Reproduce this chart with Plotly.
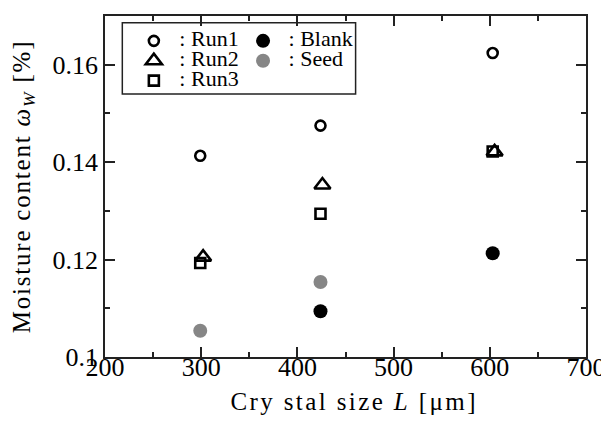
import plotly.graph_objects as go

# Data
run1_x = [299, 424, 603]
run1_y = [0.1413, 0.1475, 0.1624]
run2_x = [302, 426, 605]
run2_y = [0.1205, 0.1353, 0.1421]
run3_x = [299, 424, 603]
run3_y = [0.1193, 0.1294, 0.1422]
blank_x = [424, 603]
blank_y = [0.1094, 0.1213]
seed_x = [299, 424]
seed_y = [0.1054, 0.1154]

x_ticks = [200, 300, 400, 500, 600, 700]
y_ticks = [0.1, 0.12, 0.14, 0.16]
y_tick_text = ["0.1", "0.12", "0.14", "0.16"]

FONT = "Liberation Serif, Times New Roman, serif"
LEG = '<span style="font-size:22px"> : {}</span>'

fig = go.Figure()
fig.add_trace(go.Scatter(x=run1_x, y=run1_y, mode="markers", name=LEG.format("Run1"),
                         marker=dict(symbol="circle-open", size=10, color="black",
                                     line=dict(width=2.6, color="black")),
                         legend="legend"))
fig.add_trace(go.Scatter(x=run2_x, y=run2_y, mode="markers", name=LEG.format("Run2"),
                         marker=dict(symbol="triangle-up-open", size=14, color="black",
                                     line=dict(width=2.6, color="black")),
                         legend="legend"))
fig.add_trace(go.Scatter(x=run3_x, y=run3_y, mode="markers", name=LEG.format("Run3"),
                         marker=dict(symbol="square-open", size=10, color="black",
                                     line=dict(width=2.6, color="black")),
                         legend="legend"))
fig.add_trace(go.Scatter(x=blank_x, y=blank_y, mode="markers", name=LEG.format("Blank"),
                         marker=dict(symbol="circle", size=14, color="black"),
                         legend="legend2"))
fig.add_trace(go.Scatter(x=seed_x, y=seed_y, mode="markers", name=LEG.format("Seed"),
                         marker=dict(symbol="circle", size=14, color="#868686"),
                         legend="legend2"))

axis_common = dict(
    showline=True, linecolor="#222222", linewidth=1.8, mirror="allticks",
    ticks="inside", ticklen=10, tickwidth=1.5, tickcolor="#222222",
    showgrid=False, zeroline=False, automargin=False,
    tickfont=dict(family=FONT, size=26, color="black"),
)

legend_common = dict(xanchor="left", yanchor="top", bgcolor="rgba(0,0,0,0)", borderwidth=0,
                     font=dict(family=FONT, size=13, color="black"),
                     tracegroupgap=0, itemwidth=30)

# the page body adds an 8px offset, so margins are reduced by 8 on the left/top
fig.update_layout(
    width=609, height=425,
    margin=dict(l=97, r=31, t=8, b=76, autoexpand=False),
    paper_bgcolor="white", plot_bgcolor="white",
    font=dict(family=FONT, color="black"),
    xaxis=dict(range=[200, 700], tickvals=x_ticks, ticklabelstandoff=-14,
               minor=dict(ticks="inside", ticklen=5, tickwidth=1.5, dtick=50, tickcolor="#222222"),
               title=dict(text='<span style="letter-spacing:2.4px">&nbsp;&nbsp;Cry stal size <i>L</i> [μm]</span>',
                          font=dict(family=FONT, size=25), standoff=11),
               **axis_common),
    yaxis=dict(range=[0.1, 0.17], tickvals=y_ticks, ticktext=y_tick_text,
               minor=dict(ticks="inside", ticklen=5, tickwidth=1.5, dtick=0.01, tickcolor="#222222"),
               title=dict(text='<span style="letter-spacing:1.8px">Moisture content <i>ω</i><sub><i>W</i></sub> [%]</span>',
                          font=dict(family=FONT, size=25), standoff=16),
               **axis_common),
    legend=dict(x=0.060, y=0.971, **legend_common),
    legend2=dict(x=0.287, y=0.971, **legend_common),
    showlegend=True,
    shapes=[dict(type="rect", xref="paper", yref="paper",
                 x0=0.036, x1=0.521, y0=0.771, y1=0.980,
                 line=dict(color="#222222", width=1.5), fillcolor="rgba(0,0,0,0)")],
)

fig.write_html("out.html")
